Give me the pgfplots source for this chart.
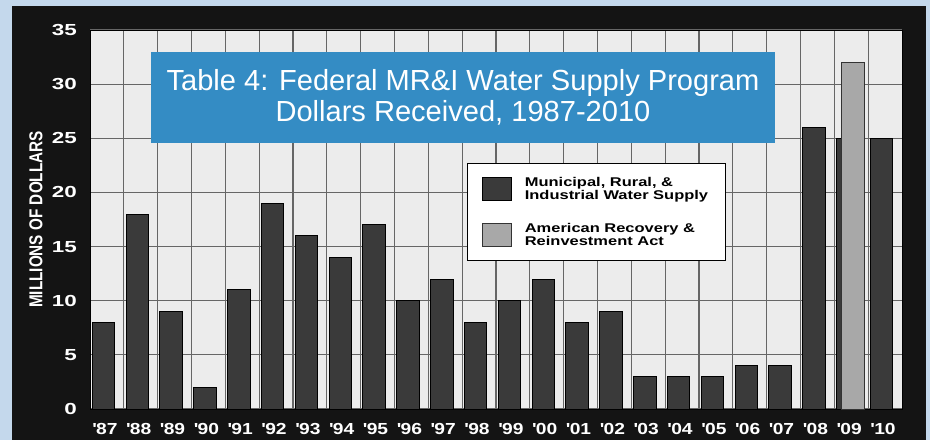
\documentclass[border=0pt]{standalone}
\usepackage{fontspec}
\usepackage{pgfplots}
\pgfplotsset{compat=1.18}
\setmainfont{Liberation Sans}
\newfontfamily\ytfont[FakeStretch=1.4]{Liberation Sans}
\newfontfamily\xtfont[FakeStretch=1.2]{Liberation Sans}
\newfontfamily\legfont[FakeStretch=1.3]{Liberation Sans}
\newfontfamily\labfont[FakeStretch=0.82]{Liberation Sans}
\definecolor{outerbg}{HTML}{C4D8EC}
\definecolor{framebg}{HTML}{141414}
\definecolor{titlebg}{HTML}{348CC4}
\definecolor{darkbar}{HTML}{3A3A3A}
\definecolor{lightbar}{HTML}{A8A8A8}
\definecolor{plotbg}{HTML}{ECECEC}
\definecolor{gridc}{HTML}{666666}
\begin{document}
\begin{tikzpicture}
\useasboundingbox (0,0) rectangle (697.5pt,330pt);
\fill[outerbg] (0,0) rectangle (697.5pt,330pt);
\fill[framebg] (9pt,0) rectangle (694.5pt,325.5pt);
\begin{axis}[
  at={(67.5pt,23.25pt)}, anchor=south west,
  scale only axis, width=609pt, height=284.25pt,
  xmin=-0.4, xmax=23.6, ymin=0, ymax=35,
  ybar, bar width=16.9pt,
  axis background/.style={fill=plotbg},
  axis line style={black},
  tick style={draw=none},
  xtick={0,...,23},
  xticklabels={\textquotesingle87,\textquotesingle88,\textquotesingle89,\textquotesingle90,\textquotesingle91,\textquotesingle92,\textquotesingle93,\textquotesingle94,\textquotesingle95,\textquotesingle96,\textquotesingle97,\textquotesingle98,\textquotesingle99,\textquotesingle00,\textquotesingle01,\textquotesingle02,\textquotesingle03,\textquotesingle04,\textquotesingle05,\textquotesingle06,\textquotesingle07,\textquotesingle08,\textquotesingle09,\textquotesingle10},
  minor xtick={0.6,1.6,2.6,3.6,4.6,5.6,6.6,7.6,8.6,9.6,10.6,11.6,12.6,13.6,14.6,15.6,16.6,17.6,18.6,19.6,20.6,21.6,22.6},
  ytick={0,5,...,35},
  xminorgrids=true, ymajorgrids=true, xmajorgrids=false,
  major grid style={gridc, line width=0.8pt},
  minor grid style={gridc, line width=0.8pt},
  /pgf/number format/assume math mode=true,
  xticklabel style={inner sep=0pt, anchor=north, xshift=1pt, yshift=-6pt, text=white, font=\xtfont\bfseries\fontsize{12}{12}\selectfont},
  yticklabel style={inner sep=0pt, anchor=east, xshift=-9.75pt, text=white, font=\ytfont\bfseries\fontsize{12}{12}\selectfont},
  ylabel={MILLIONS OF DOLLARS},
  ylabel style={font=\labfont\bfseries\fontsize{14}{14}\selectfont, text=white, at={(axis description cs:-0.0665,0.5)}, anchor=center},
  legend style={at={(0.4643,0.649)}, anchor=north west, draw=black, line width=0.75pt, fill=white,
    inner xsep=11pt, inner ysep=8pt, row sep=12.5pt, column sep=7.5pt,
    font=\legfont\bfseries\fontsize{9.5}{9.75}\selectfont,
    cells={align=left, anchor=west, inner sep=0pt}},
  legend image code/.code={\draw[#1, line width=0.75pt] (0pt,-8.6pt) rectangle (21.75pt,8.6pt);},
]
\addplot[fill=darkbar, draw=black, line width=0.75pt, bar shift=0pt] coordinates {(0,8)(1,18)(2,9)(3,2)(4,11)(5,19)(6,16)(7,14)(8,17)(9,10)(10,12)(11,8)(12,10)(13,12)(14,8)(15,9)(16,3)(17,3)(18,3)(19,4)(20,4)(21,26)(22,25)(23,25)};
\addlegendentry{Municipal, Rural, \&\\Industrial Water Supply}
\addplot[fill=lightbar, draw=black!80, line width=0.75pt, bar shift=3.75pt] coordinates {(22,32)};
\addlegendentry{American Recovery \&\\Reinvestment Act}
\end{axis}
\node[fill=titlebg, minimum width=468pt, minimum height=68.25pt, inner sep=0pt, text=white, align=center, font=\fontsize{21.8}{23.25}\selectfont] at (347.25pt,256.875pt) {Table 4: Federal MR\&I Water Supply Program\\Dollars Received, 1987-2010};
\end{tikzpicture}
\end{document}
